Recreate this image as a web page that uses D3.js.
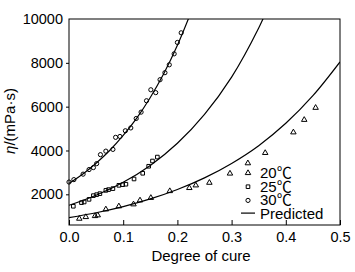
<!DOCTYPE html>
<html>
<head>
<meta charset="utf-8">
<script src="https://cdn.jsdelivr.net/npm/d3@7"></script>
<style>
body { margin: 0; background: #fff; }
svg { display: block; font-family: "Liberation Sans", Arial, "Noto Sans CJK SC", sans-serif; }
.axis text { font-size: 14.5px; fill: #000; font-family: "Liberation Sans", Arial, sans-serif; }
.axis path, .axis line { stroke: #000; stroke-width: 1; }
</style>
</head>
<body>
<svg></svg>
<script>
const width = 355;
const height = 272;
const margin = { top: 19, right: 15, bottom: 47, left: 69 };

// measured points, degree of cure vs viscosity (mPa·s)
const cure20 = [0.019, 0.031, 0.048, 0.053, 0.068, 0.092, 0.119, 0.131, 0.151, 0.186, 0.222, 0.234, 0.259, 0.297, 0.330, 0.362, 0.414, 0.434, 0.455];
const eta20 = [890, 965, 1010, 1045, 1315, 1455, 1545, 1725, 1840, 2150, 2290, 2410, 2530, 2950, 3420, 3890, 4830, 5400, 5950];

const cure25 = [0.008, 0.023, 0.028, 0.037, 0.045, 0.051, 0.057, 0.068, 0.073, 0.081, 0.092, 0.099, 0.105, 0.120, 0.136, 0.147, 0.154, 0.163];
const eta25 = [1455, 1620, 1650, 1770, 1940, 1985, 2030, 2180, 2215, 2260, 2410, 2440, 2460, 2700, 2960, 3280, 3520, 3700];

const cure30 = [0.000, 0.009, 0.026, 0.037, 0.045, 0.051, 0.058, 0.068, 0.081, 0.086, 0.094, 0.104, 0.114, 0.124, 0.133, 0.143, 0.151, 0.160, 0.168, 0.177, 0.185, 0.194, 0.200, 0.207];
const eta30 = [2560, 2670, 2920, 3130, 3220, 3400, 3810, 3970, 4050, 4600, 4640, 4900, 5030, 5460, 5750, 6270, 6770, 6640, 7230, 7550, 7910, 8410, 8930, 9370];

// predicted curves
const predCure20 = [0, 0.05, 0.1, 0.15, 0.2, 0.25, 0.3, 0.35, 0.4, 0.45, 0.5];
const predEta20 = [940, 1160, 1440, 1790, 2220, 2750, 3410, 4220, 5240, 6500, 8040];
const predCure25 = [0, 0.05, 0.1, 0.15, 0.2, 0.25, 0.3, 0.35, 0.37];
const predEta25 = [1500, 1960, 2550, 3320, 4330, 5650, 7350, 9590, 10700];
const predCure30 = [0, 0.025, 0.05, 0.075, 0.1, 0.125, 0.15, 0.175, 0.2, 0.225];
const predEta30 = [2500, 2920, 3420, 4000, 4690, 5480, 6420, 7510, 8800, 10300];

const xTicks = [0, 0.1, 0.2, 0.3, 0.4, 0.5];
const yTicks = [2000, 4000, 6000, 8000, 10000];
const legendLabels = ["20\u2103", "25\u2103", "30\u2103", "Predicted"];

const svg = d3.select("svg")
    .attr("width", width)
    .attr("height", height);

const x = d3.scaleLinear().domain([0, 0.5]).range([margin.left, width - margin.right]);
const y = d3.scaleLinear().domain([600, 10000]).range([height - margin.bottom, margin.top]);

svg.append("clipPath").attr("id", "clip")
    .append("rect")
    .attr("x", x(0)).attr("y", y(10000))
    .attr("width", x(0.5) - x(0)).attr("height", y(600) - y(10000));

// frame
svg.append("rect")
    .attr("x", x(0)).attr("y", y(10000))
    .attr("width", x(0.5) - x(0)).attr("height", y(600) - y(10000))
    .attr("fill", "none").attr("stroke", "#000");

svg.append("g")
    .attr("class", "axis")
    .attr("transform", `translate(0,${y(600)})`)
    .call(d3.axisBottom(x).tickValues(xTicks).tickFormat(d3.format(".1f")).tickSize(-5).tickSizeOuter(0).tickPadding(7))
    .call(g => g.select(".domain").remove());

svg.append("g")
    .attr("class", "axis")
    .attr("transform", `translate(${x(0)},0)`)
    .call(d3.axisLeft(y).tickValues(yTicks).tickFormat(d3.format("d")).tickSize(3).tickSizeOuter(0).tickPadding(3))
    .call(g => g.select(".domain").remove())
    .call(g => g.selectAll(".tick").filter(d => d === 10000).select("line").remove());

// predicted lines
const line = d3.line()
    .x(d => x(d[0]))
    .y(d => y(d[1]))
    .curve(d3.curveCatmullRom);

const curves = [
    d3.zip(predCure20, predEta20),
    d3.zip(predCure25, predEta25),
    d3.zip(predCure30, predEta30)
];

svg.append("g")
    .attr("clip-path", "url(#clip)")
    .selectAll("path")
    .data(curves)
    .enter().append("path")
    .attr("d", line)
    .attr("fill", "none")
    .attr("stroke", "#000")
    .attr("stroke-width", 1.2);

const tri = d3.symbol(d3.symbolTriangle, 13);
const sq = d3.symbol(d3.symbolSquare, 13);

svg.append("g").selectAll("path")
    .data(d3.zip(cure20, eta20))
    .enter().append("path")
    .attr("d", tri)
    .attr("transform", d => `translate(${x(d[0])},${y(d[1])})`)
    .attr("fill", "none").attr("stroke", "#000").attr("stroke-width", 1);

svg.append("g").selectAll("path")
    .data(d3.zip(cure25, eta25))
    .enter().append("path")
    .attr("d", sq)
    .attr("transform", d => `translate(${x(d[0])},${y(d[1])})`)
    .attr("fill", "none").attr("stroke", "#000").attr("stroke-width", 1);

svg.append("g").selectAll("circle")
    .data(d3.zip(cure30, eta30))
    .enter().append("circle")
    .attr("cx", d => x(d[0]))
    .attr("cy", d => y(d[1]))
    .attr("r", 2.1)
    .attr("fill", "none").attr("stroke", "#000").attr("stroke-width", 1);

// legend
const legend = svg.append("g")
    .attr("transform", "translate(248,178)");

const legendItem = legend.selectAll("g")
    .data(legendLabels)
    .enter().append("g")
    .attr("transform", (d, i) => `translate(0,${i * 13.7})`);

legendItem.each(function (d, i) {
    const g = d3.select(this);
    if (i === 0) g.append("path").attr("d", tri).attr("transform", "translate(0,-5)");
    if (i === 1) g.append("path").attr("d", sq).attr("transform", "translate(0,-5)");
    if (i === 2) g.append("circle").attr("cx", 0).attr("cy", -5).attr("r", 2.1);
    if (i === 3) g.append("line").attr("x1", -7).attr("x2", 7).attr("y1", -6).attr("y2", -6).attr("stroke-width", 1.2);
    g.selectAll("path, circle, line").attr("fill", "none").attr("stroke", "#000");
});

legendItem.append("text")
    .attr("x", 12)
    .attr("y", 0)
    .attr("font-size", 15)
    .text(d => d);

// axis titles
svg.append("text")
    .attr("x", 201)
    .attr("y", 261)
    .attr("text-anchor", "middle")
    .attr("font-size", 15)
    .text("Degree of cure");

const yTitle = svg.append("text")
    .attr("transform", "rotate(-90)")
    .attr("x", -121)
    .attr("y", 15)
    .attr("text-anchor", "middle")
    .attr("font-size", 15);
yTitle.append("tspan").attr("font-style", "italic").text("\u03b7");
yTitle.append("tspan").text("/(mPa\u00b7s)");
</script>
</body>
</html>
